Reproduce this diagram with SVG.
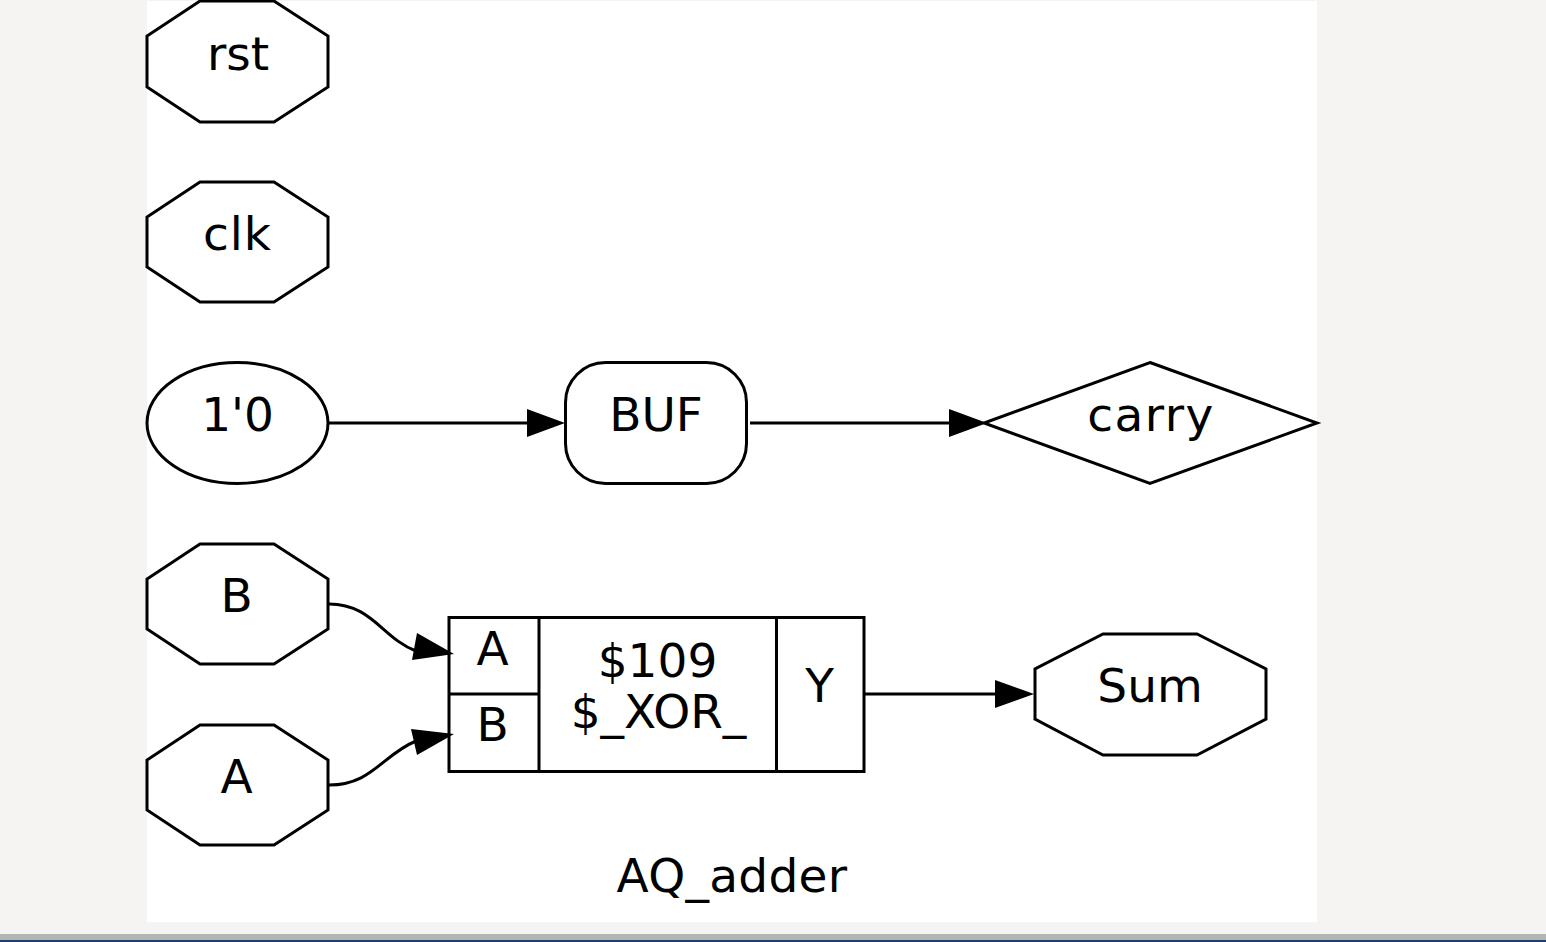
<svg xmlns="http://www.w3.org/2000/svg" width="1546" height="942" viewBox="0 0 1546 942">
<style>
.s{fill:none;stroke:#000;stroke-width:3;stroke-linejoin:miter}
.e{fill:none;stroke:#000;stroke-width:3}
.h{fill:#000;stroke:none}
text{font-family:"DejaVu Sans",sans-serif;font-size:47px;fill:#000;text-anchor:middle}
</style>
<rect x="0" y="0" width="1546" height="942" fill="#f5f4f2"/>
<rect x="147" y="1" width="1170" height="921" fill="#fff"/>
<rect x="0" y="934" width="1546" height="6" fill="#b5b5b3"/>
<rect x="0" y="940" width="1546" height="2" fill="#1c3f73"/>
<g id="connectors">
<path class="e" d="M329 423H529"/><polygon class="h" points="527,409 565,423 527,437"/>
<path class="e" d="M750 423H950"/><polygon class="h" points="949,409 987,423 949,437"/>
<path class="e" d="M329 604C372 604 382 638 416 651"/><polygon class="h" points="417,633 454,654 412,660"/>
<path class="e" d="M329 785C372 785 382 755 416 741"/><polygon class="h" points="411,729 454,734 417,755"/>
<path class="e" d="M864 694H997"/><polygon class="h" points="995,680 1034,694 995,708"/>
</g>
<g id="rst"><polygon class="s" points="328,36 328,87 274,122 200,122 147,87 147,36 200,1 274,1"/><text x="238" y="70">rst</text></g>
<g id="clk"><polygon class="s" points="328,217 328,267 274,302 200,302 147,267 147,217 200,182 274,182"/><text x="237.500" y="250" style="letter-spacing:1px">clk</text></g>
<g id="const"><ellipse class="s" cx="237.500" cy="423" rx="90.500" ry="60.500"/><text x="237.500" y="431">1'0</text></g>
<g id="buf"><rect class="s" x="565.500" y="362.500" width="181" height="121" rx="40" ry="40"/><text x="656" y="431">BUF</text></g>
<g id="carry"><polygon class="s" points="1150,362.500 1317,423 1150,483.500 984,423"/><text x="1151" y="431" style="letter-spacing:1.400px">carry</text></g>
<g id="B"><polygon class="s" points="328,579 328,629 274,664 200,664 147,629 147,579 200,544 274,544"/><text x="236.500" y="612">B</text></g>
<g id="A"><polygon class="s" points="328,760 328,810 274,845 200,845 147,810 147,760 200,725 274,725"/><text x="236.500" y="793">A</text></g>
<g id="xor"><rect class="s" x="449" y="617.500" width="415" height="154"/><path class="s" d="M449 694H539M539 617.500V771.500M776.500 617.500V771.500"/>
<text x="492.500" y="665">A</text><text x="492.500" y="741">B</text><text x="657.500" y="677">$109</text><text x="658.500" y="728">$_XOR_</text><text x="819.500" y="702">Y</text></g>
<g id="Sum"><polygon class="s" points="1266,669 1266,719 1197,755 1103,755 1035,719 1035,669 1103,634 1197,634"/><text x="1150" y="702">Sum</text></g>
<text id="title" x="732" y="892" style="letter-spacing:.3px">AQ_adder</text>
</svg>
